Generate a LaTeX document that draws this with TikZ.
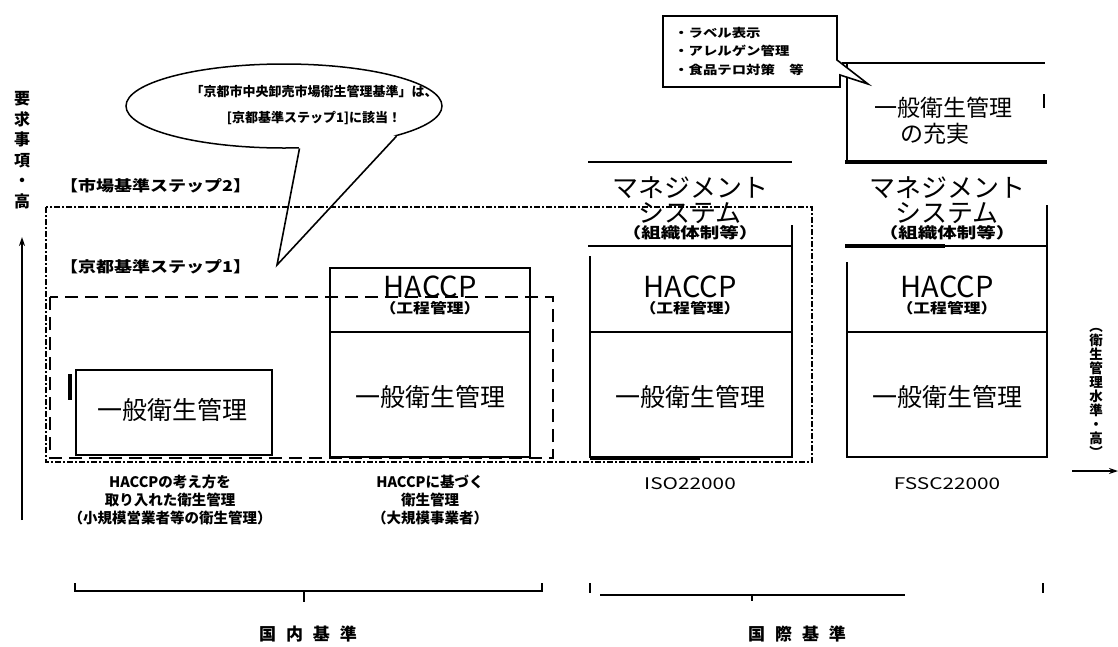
\documentclass[tikz,border=0pt]{standalone}
\usepackage{fontspec}
\setmainfont{Noto Sans CJK JP}
\newfontfamily\wA[FakeStretch=1.2]{Noto Sans CJK JP}
\newfontfamily\wB[FakeStretch=1.3]{Noto Sans CJK JP}
\usetikzlibrary{shapes.geometric,calc,arrows.meta}
\tikzset{
  ln/.style={line width=1.6pt},
  thk/.style={line width=3.2pt},
  lbl/.style={inner sep=0pt, font=\fontsize{26}{27}\selectfont},
  sub/.style={inner sep=0pt, font=\wB\bfseries\fontsize{15}{16}\selectfont},
  subp/.style={inner sep=0pt, font=\wA\bfseries\fontsize{14}{16}\selectfont},
  hac/.style={inner sep=0pt, font=\fontsize{29}{30}\selectfont},
  gen/.style={inner sep=0pt, font=\fontsize{25}{27}\selectfont},
  steplbl/.style={inner sep=0pt, anchor=west, font=\wA\bfseries\fontsize{15}{17}\selectfont},
  captxt/.style={inner sep=0pt, align=center, font=\bfseries\fontsize{14.5}{18}\selectfont},
  stdtxt/.style={inner sep=0pt, font=\wB\fontsize{16}{18}\selectfont},
  vleft/.style={inner sep=0pt, align=center, font=\bfseries\fontsize{16}{20.5}\selectfont},
  vright/.style={inner sep=0pt, align=center, font=\bfseries\fontsize{13.5}{14}\selectfont},
  grp/.style={inner sep=0pt, font=\bfseries\fontsize{17}{19}\selectfont},
  dotrect/.style={line width=2pt, dash pattern=on 6pt off 2pt on 2pt off 2pt},
  dashrect/.style={line width=2pt, dash pattern=on 13pt off 7pt},
  arr/.style={line width=1.6pt, -{Stealth[length=9pt,width=6pt]}},
}
\begin{document}
\begin{tikzpicture}[x=1pt,y=-1pt]
\useasboundingbox[fill=white] (0,0) rectangle (1118,646);

% ---- speech bubble
\node[ellipse, draw, line width=1.5pt, fill=white, minimum width=316pt, minimum height=84pt, inner sep=0pt] (bubble) at (284,106) {};
\coordinate (tip) at (277,265);
\fill[white] (bubble.-70) -- (tip) -- (bubble.-15) -- ($(bubble.-15)!0.15!(bubble.center)$) -- ($(bubble.-70)!0.15!(bubble.center)$) -- cycle;
\draw[ln] (bubble.-70) -- (tip) -- (bubble.-15);
\node[inner sep=0pt, align=center, font=\bfseries\fontsize{13}{26}\selectfont] (bubtxt) at (314,105) {「京都市中央卸売市場衛生管理基準」は、\\{[}京都基準ステップ1{]}に該当！};

% ---- group rectangles
\draw[dotrect] (46,207) rectangle (812,462);
\draw[dashrect] (50,297) rectangle (553,458);
\node[steplbl] (s2) at (60,186) {【市場基準ステップ2】};
\node[steplbl] (s1) at (60,267) {【京都基準ステップ1】};

% ---- column 1
\draw[ln] (76,370) rectangle (272,455);
\draw[thk] (70,374) -- (70,400);
\node[gen] (c1g) at (172,410) {一般衛生管理};

% ---- column 2
\draw[ln] (330,268) rectangle (530,457);
\draw[ln] (330,332) -- (530,332);
\node[hac] (c2h) at (430,287) {HACCP};
\node[subp] (c2p) at (430,308) {（工程管理）};
\node[gen] (c2g) at (430,397) {一般衛生管理};

% ---- column 3
\draw[ln] (588,162) -- (792,162);
\draw[ln] (588,246) -- (792,246);
\draw[ln] (792,225) -- (792,457) -- (590,457) -- (590,256);
\draw[thk] (590,458) -- (700,458);
\draw[ln] (590,332) -- (792,332);
\node[lbl] (c3m1) at (690,188) {マネジメント};
\node[lbl] (c3m2) at (690,213) {システム};
\node[sub] (c3m3) at (690,233) {（組織体制等）};
\node[hac] (c3h) at (690,287) {HACCP};
\node[subp] (c3p) at (690,308) {（工程管理）};
\node[gen] (c3g) at (690,397) {一般衛生管理};

% ---- column 4
\draw[thk] (845,162) -- (1047,162);
\draw[ln] (845,246) -- (1047,246);
\draw[thk] (845,246) -- (945,246);
\draw[ln] (1047,205) -- (1047,457) -- (847,457) -- (847,262);
\draw[ln] (847,332) -- (1047,332);
\node[lbl] (c4m1) at (947,188) {マネジメント};
\node[lbl] (c4m2) at (947,213) {システム};
\node[sub] (c4m3) at (947,233) {（組織体制等）};
\node[hac] (c4h) at (947,287) {HACCP};
\node[subp] (c4p) at (947,308) {（工程管理）};
\node[gen] (c4g) at (947,397) {一般衛生管理};

% ---- top box
\draw[ln] (842,63) -- (1045,63);
\draw[ln] (847,63) -- (847,162);
\draw[ln] (1044,94) -- (1044,108);
\node[gen, font=\fontsize{23}{25}\selectfont] (tb1) at (943,108) {一般衛生管理};
\node[gen, font=\fontsize{23}{25}\selectfont] (tb2) at (935,134) {の充実};

% ---- callout
\draw[ln, fill=white] (663,16) -- (837,16) -- (837,60) -- (868,84) -- (840,75) -- (840,87) -- (663,87) -- cycle;
\node[inner sep=0pt, anchor=west, align=left, font=\wA\bfseries\fontsize{12}{18.5}\selectfont] (calltxt) at (674,51) {・ラベル表示\\・アレルゲン管理\\・食品テロ対策　等};

% ---- captions
\node[captxt] (cap1) at (170,500) {HACCPの考え方を\\取り入れた衛生管理\\（小規模営業者等の衛生管理）};
\node[captxt] (cap2) at (430,500) {HACCPに基づく\\衛生管理\\（大規模事業者）};
\node[stdtxt] (cap3) at (690,484) {ISO22000};
\node[stdtxt] (cap4) at (947,484) {FSSC22000};

% ---- axes
\node[vleft] (vl) at (22,150) {要\\求\\事\\項\\・\\高};
\coordinate (la0) at (22,520);
\coordinate (la1) at (22,237);
\draw[arr] (la0) -- (la1);
\node[vright] (vr) at (1096,393) {︵\\衛\\生\\管\\理\\水\\準\\・\\高\\︶};
\coordinate (ra0) at (1072,471);
\coordinate (ra1) at (1118,471);
\draw[arr] (ra0) -- (ra1);

% ---- bottom brackets
\draw[ln] (75,583) -- (75,591) -- (542,591) -- (542,583);
\draw[ln] (304,591) -- (304,602);
\draw[ln] (590,583) -- (590,593);
\draw[line width=2.4pt] (600,595) -- (905,595);
\draw[ln] (752,595) -- (752,601);
\draw[ln] (1043,583) -- (1043,593);
\node[grp] (dom) at (308,634) {国\hspace{10pt}内\hspace{10pt}基\hspace{10pt}準};
\node[grp] (intl) at (797,634) {国\hspace{10pt}際\hspace{10pt}基\hspace{10pt}準};
\end{tikzpicture}
\end{document}
